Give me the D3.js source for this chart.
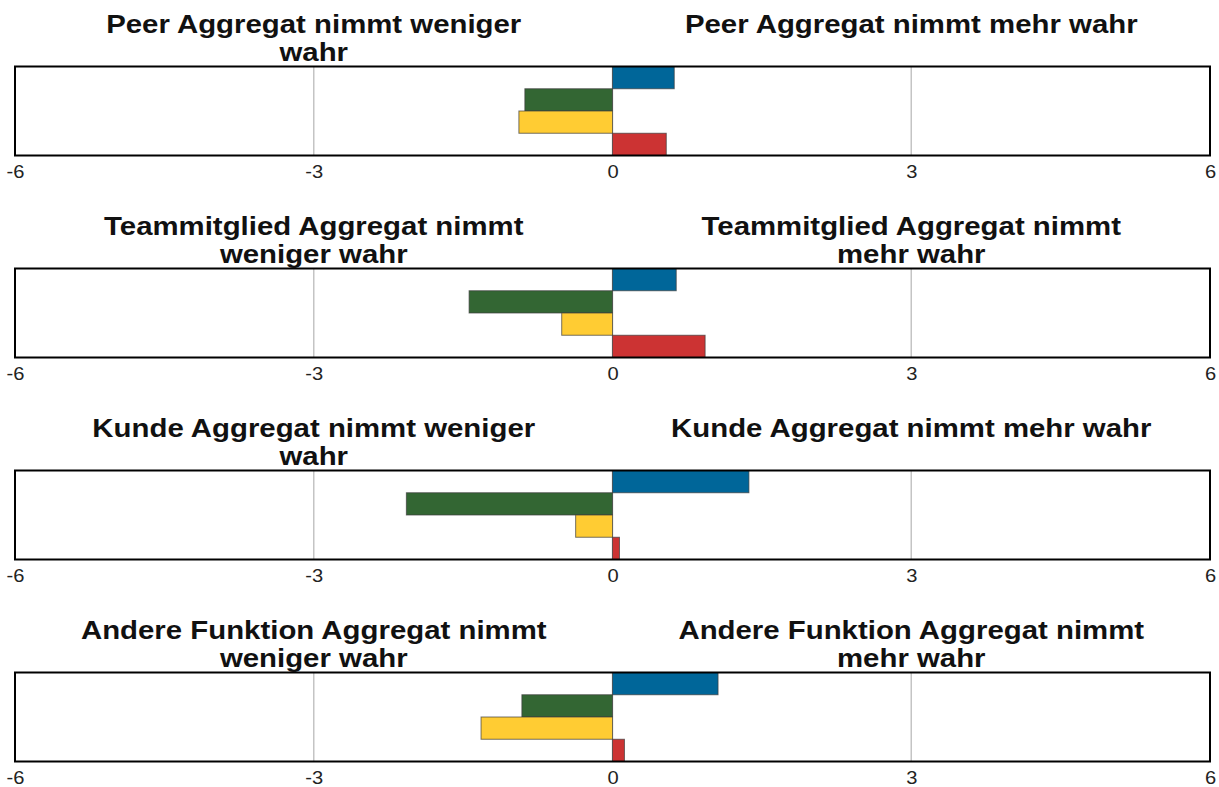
<!DOCTYPE html>
<html>
<head>
<meta charset="utf-8">
<script src="https://cdn.jsdelivr.net/npm/d3@7"></script>
<style>
  body { margin: 0; background: #fff; }
  text { font-family: "Liberation Sans", Arial, sans-serif; }
</style>
</head>
<body>
<script>
// groups (one panel each) and the four series, top to bottom
var groups = ["Peer", "Teammitglied", "Kunde", "Andere Funktion"];
var seriesNames = ["Serie 1", "Serie 2", "Serie 3", "Serie 4"];
var seriesColors = ["#006699", "#336633", "#ffcc33", "#cc3333"];
var values = [
  [0.62, -0.88, -0.94, 0.54],
  [0.64, -1.44, -0.51, 0.93],
  [1.37, -2.07, -0.37, 0.07],
  [1.06, -0.91, -1.32, 0.12]
];
var tickValues = [-6, -3, 0, 3, 6];
var gridValues = [-3, 0, 3];

var W = 1219, H = 787;
var left = 15, right = 1210;
var panelTop0 = 66.5, panelStep = 202, panelH = 89;
var titleStretch = 1.13, tickStretch = 1.15;

var svg = d3.select("body").append("svg")
            .attr("width", W)
            .attr("height", H);

var x = d3.scaleLinear().domain([-6, 6]).range([left, right]);

function wrapLines(str, maxW, measure) {
  var words = str.split(" "), lines = [], cur = "";
  words.forEach(function(w) {
    var t = cur ? cur + " " + w : w;
    if (cur && measure(t) > maxW) { lines.push(cur); cur = w; }
    else cur = t;
  });
  if (cur) lines.push(cur);
  return lines;
}

var probe = svg.append("text")
    .attr("font-size", 26).attr("font-weight", "bold")
    .attr("visibility", "hidden");
function measure(s) { probe.text(s); return probe.node().getComputedTextLength() * titleStretch; }

groups.forEach(function(g, gi) {
  var top = panelTop0 + gi * panelStep;
  var panel = svg.append("g").attr("class", "panel");

  var y = d3.scaleBand().domain(seriesNames).range([top, top + panelH]).padding(0);

  // grid lines
  panel.selectAll("line.grid")
    .data(gridValues)
    .enter().append("line")
      .attr("class", "grid")
      .attr("x1", function(d) { return x(d); })
      .attr("x2", function(d) { return x(d); })
      .attr("y1", top)
      .attr("y2", top + panelH)
      .attr("stroke", "#c4c4c4")
      .attr("stroke-width", 1.5);

  // bars
  panel.selectAll("rect.bar")
    .data(values[gi])
    .enter().append("rect")
      .attr("class", "bar")
      .attr("x", function(d) { return x(Math.min(0, d)); })
      .attr("width", function(d) { return Math.abs(x(d) - x(0)); })
      .attr("y", function(d, i) { return y(seriesNames[i]); })
      .attr("height", y.bandwidth())
      .attr("fill", function(d, i) { return seriesColors[i]; })
      .attr("stroke", "rgba(60,60,60,0.7)")
      .attr("stroke-width", 1);

  // frame
  panel.append("rect")
    .attr("x", left).attr("y", top)
    .attr("width", right - left).attr("height", panelH)
    .attr("fill", "none")
    .attr("stroke", "#000")
    .attr("stroke-width", 2);

  // axis labels
  var axis = d3.axisBottom(x).tickValues(tickValues).tickSize(0).tickPadding(10)
               .tickFormat(d3.format("d"));
  var ax = panel.append("g")
    .attr("transform", "translate(0," + (top + panelH) + ")")
    .call(axis);
  ax.select(".domain").remove();
  ax.selectAll("text")
    .attr("font-size", 17.5)
    .attr("font-family", "Liberation Sans, Arial, sans-serif")
    .attr("fill", "#222")
    .attr("transform", "scale(" + tickStretch + ",1)");
  ax.selectAll(".tick text").text(function(d) { return d < 0 ? "-" + Math.abs(d) : d; });

  // titles
  var titles = [
    { text: g + " Aggregat nimmt weniger wahr", cx: (x(-6) + x(0)) / 2 },
    { text: g + " Aggregat nimmt mehr wahr", cx: (x(0) + x(6)) / 2 }
  ];
  titles.forEach(function(t) {
    var lines = wrapLines(t.text, 487, measure);
    panel.selectAll(null)
      .data(lines)
      .enter().append("text")
        .attr("transform", function(d, i) {
          return "translate(" + t.cx + "," + (top - 33.5 + i * 28) + ") scale(" + titleStretch + ",1)";
        })
        .attr("text-anchor", "middle")
        .attr("font-size", 26)
        .attr("font-weight", "bold")
        .attr("fill", "#111")
        .text(function(d) { return d; });
  });
});

probe.remove();
</script>
</body>
</html>
